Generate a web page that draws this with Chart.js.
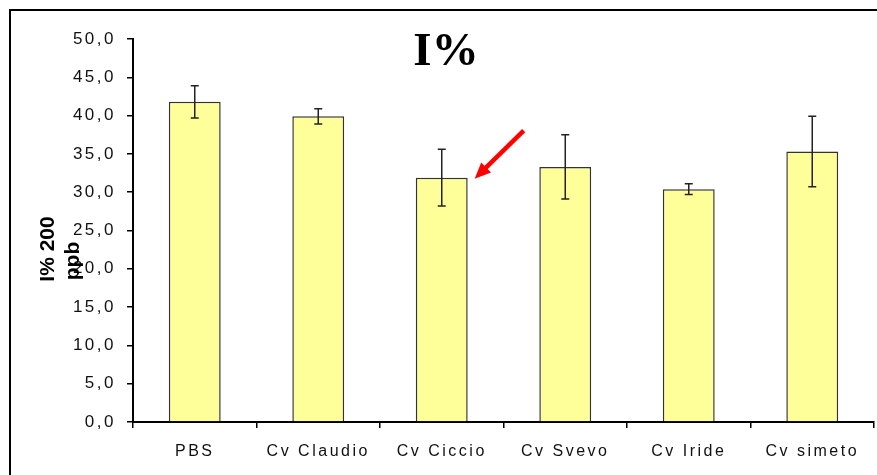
<!DOCTYPE html>
<html>
<head>
<meta charset="utf-8">
<script src="https://cdn.jsdelivr.net/npm/chart.js@4.4.1/dist/chart.umd.min.js"></script>
<style>
  html, body { margin: 0; padding: 0; background: #fff; overflow: hidden; }
  #wrap { position: relative; width: 877px; height: 475px; overflow: hidden; }
  #frame { position: absolute; left: 9px; top: 9px; width: 900px; height: 500px; border: 2px solid #000; box-sizing: border-box; }
  canvas { position: absolute; left: 0; top: 0; }
</style>
</head>
<body>
<div id="wrap">
  <div id="frame"></div>
  <canvas id="chart" width="877" height="475"></canvas>
</div>
<script>
// values
const categories = ['PBS', 'Cv Claudio', 'Cv Ciccio', 'Cv Svevo', 'Cv Iride', 'Cv simeto'];
const meanValues = [41.8, 39.9, 31.9, 33.3, 30.4, 35.3];
const errorValues = [2.1, 1.0, 3.7, 4.2, 0.7, 4.6];
const yTickLabels = ['0,0', '5,0', '10,0', '15,0', '20,0', '25,0', '30,0', '35,0', '40,0', '45,0', '50,0'];
const titleText = 'I%';
const yTitleLines = ['I% 200', 'ppb'];
const arrowTarget = 'Cv Ciccio';

const family = "'Liberation Sans', Arial, sans-serif";

// Excel-ish wide tracking on the axis labels
const spacingPlugin = {
    id: 'spacing',
    beforeLayout(chart) { chart.ctx.letterSpacing = '2.5px'; },
    beforeDraw(chart) { chart.ctx.letterSpacing = '2.5px'; }
};

const errorBarPlugin = {
    id: 'errorBars',
    afterDatasetsDraw(chart) {
        const { ctx, scales: { y } } = chart;
        const meta = chart.getDatasetMeta(0);
        ctx.save();
        ctx.strokeStyle = '#222';
        ctx.lineWidth = 1.5;
        meta.data.forEach((bar, i) => {
            const top = y.getPixelForValue(meanValues[i] + errorValues[i]);
            const bottom = y.getPixelForValue(meanValues[i] - errorValues[i]);
            ctx.beginPath();
            ctx.moveTo(bar.x, top);
            ctx.lineTo(bar.x, bottom);
            ctx.moveTo(bar.x - 4, top);
            ctx.lineTo(bar.x + 4, top);
            ctx.moveTo(bar.x - 4, bottom);
            ctx.lineTo(bar.x + 4, bottom);
            ctx.stroke();
        });
        ctx.restore();
    }
};

const labelsPlugin = {
    id: 'labels',
    afterDraw(chart) {
        const ctx = chart.ctx;
        ctx.save();
        ctx.letterSpacing = '0px';
        ctx.fillStyle = '#000';

        // big title
        ctx.font = "bold 47px 'Liberation Serif', 'Times New Roman', serif";
        ctx.textAlign = 'center';
        ctx.textBaseline = 'alphabetic';
        ctx.fillText(titleText, 446, 65);

        // rotated y axis title, two lines
        ctx.font = "bold 21px " + family;
        [[54, 249], [79, 261]].forEach(([bx, cy], i) => {
            ctx.save();
            ctx.translate(bx, cy);
            ctx.rotate(-Math.PI / 2);
            ctx.fillText(yTitleLines[i], 0, 0);
            ctx.restore();
        });

        // red arrow pointing at the highlighted bar
        const idx = categories.indexOf(arrowTarget);
        const bar = chart.getDatasetMeta(0).data[idx];
        const tipX = bar.x + bar.width / 2 + 7;
        const tipY = bar.y + 1;
        const tailX = tipX + 49, tailY = tipY - 48;
        const len = Math.hypot(tipX - tailX, tipY - tailY);
        const dx = (tipX - tailX) / len, dy = (tipY - tailY) / len;
        const baseX = tipX - dx * 16, baseY = tipY - dy * 16;
        ctx.strokeStyle = '#ff0000';
        ctx.fillStyle = '#ff0000';
        ctx.lineWidth = 4.5;
        ctx.beginPath();
        ctx.moveTo(tailX, tailY);
        ctx.lineTo(baseX + dx * 2, baseY + dy * 2);
        ctx.stroke();
        ctx.beginPath();
        ctx.moveTo(tipX, tipY);
        ctx.lineTo(baseX - dy * 7, baseY + dx * 7);
        ctx.lineTo(baseX + dy * 7, baseY - dx * 7);
        ctx.closePath();
        ctx.fill();
        ctx.restore();
    }
};

new Chart(document.getElementById('chart'), {
    type: 'bar',
    data: {
        labels: categories,
        datasets: [{
            data: meanValues,
            backgroundColor: '#ffff99',
            borderColor: '#333',
            borderWidth: 1.5,
            categoryPercentage: 1,
            barPercentage: 0.42
        }]
    },
    options: {
        responsive: false,
        animation: false,
        layout: { padding: { top: 39, right: 3, left: 0, bottom: 0 } },
        plugins: {
            legend: { display: false },
            tooltip: { enabled: false }
        },
        scales: {
            x: {
                ticks: { color: '#111', font: { family, size: 16 }, padding: 14, autoSkip: false, maxRotation: 0 },
                grid: { drawOnChartArea: false, tickLength: 6, color: '#000', lineWidth: 1.5, offset: true },
                border: { color: '#000', width: 2 },
                afterFit: (scale) => { scale.height = 53; }
            },
            y: {
                min: 0,
                max: 50,
                ticks: { stepSize: 5, padding: 11, color: '#111', font: { family, size: 17 }, callback: (v, i) => yTickLabels[i] },
                grid: { drawOnChartArea: false, tickLength: 6, color: '#000', lineWidth: 1.5 },
                border: { color: '#000', width: 2 },
                afterFit: (scale) => { scale.width = 133; }
            }
        }
    },
    plugins: [spacingPlugin, errorBarPlugin, labelsPlugin]
});
</script>
</body>
</html>
